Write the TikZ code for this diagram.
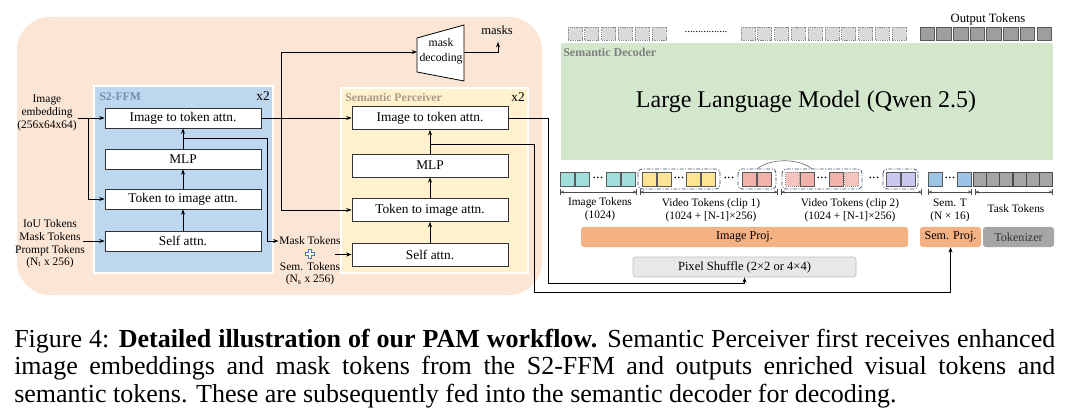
\documentclass[tikz,border=0pt]{standalone}
\usepackage{fontspec}
\setmainfont{Liberation Serif}
\usetikzlibrary{arrows.meta,calc}
\definecolor{bgorange}{RGB}{251,229,212}
\definecolor{s2blue}{RGB}{189,215,238}
\definecolor{spyellow}{RGB}{255,242,204}
\definecolor{llmgreen}{RGB}{210,231,204}
\definecolor{teal1}{RGB}{160,222,219}
\definecolor{yel1}{RGB}{255,228,150}
\definecolor{pink1}{RGB}{242,178,172}
\definecolor{pink2}{RGB}{246,196,190}
\definecolor{purp1}{RGB}{200,200,242}
\definecolor{blue1}{RGB}{157,195,230}
\definecolor{gray1}{RGB}{165,165,165}
\definecolor{projorange}{RGB}{244,177,131}
\definecolor{tokgray}{RGB}{166,166,166}
\definecolor{psgray}{RGB}{232,232,232}
\definecolor{grpline}{RGB}{68,84,106}
\definecolor{s2title}{RGB}{120,140,170}
\definecolor{sptitle}{RGB}{165,155,135}
\definecolor{sdtitle}{RGB}{128,128,128}
\definecolor{plusblue}{RGB}{70,120,200}
\definecolor{outdark}{RGB}{158,158,158}
\definecolor{outlight}{RGB}{218,218,218}
\begin{document}
\begin{tikzpicture}[x=0.75pt,y=-0.75pt,
  blk/.style={draw=black!80, fill=white, line width=0.6pt, minimum width=117pt, inner sep=0pt, font=\fontsize{10}{12}\selectfont},
  s2blk/.style={blk, minimum height=15pt},
  spblk/.style={blk, minimum height=17.25pt},
  arr/.style={-{Stealth[length=4pt,width=3pt]}, line width=0.6pt},
  lbl/.style={font=\fontsize{8.6}{9.4}\selectfont, align=center, inner sep=0.5pt},
  ttl/.style={font=\bfseries\fontsize{8.8}{10}\selectfont, inner sep=0pt},
  xtwo/.style={font=\fontsize{10}{12}\selectfont, inner sep=0pt},
  tok/.style={draw=black!65, line width=0.5pt},
  grp/.style={draw=grpline, line width=0.6pt, dash pattern=on 3pt off 1.2pt on 0.8pt off 1.2pt, rounded corners=3pt},
  outl/.style={draw=black!45, fill=outlight, line width=0.5pt, dash pattern=on 1pt off 0.7pt},
  outd/.style={draw=black!65, fill=outdark, line width=0.6pt},
  tlbl/.style={font=\fontsize{8.5}{9.8}\selectfont, align=center, inner sep=0pt},
  brk/.style={{Bar[width=4pt]Stealth[length=2.5pt,width=2.2pt]}-{Stealth[length=2.5pt,width=2.2pt]Bar[width=4pt]}, line width=0.45pt, draw=black!70},
  projbar/.style={rounded corners=2pt, inner sep=0pt, font=\fontsize{9.1}{11}\selectfont},
  captxt/.style={anchor=base west, inner sep=0pt, font=\fontsize{19.5}{20}\selectfont},
  tdots/.style={font=\bfseries\fontsize{8}{9}\selectfont, inner sep=0pt}
]
\useasboundingbox (0,0) rectangle (1080,420);
\fill[white] (0,0) rectangle (1080,420);

% ---------- left panel backgrounds
\fill[bgorange, rounded corners=25pt] (17,17) rectangle (542,295);
\draw[white, line width=1.2pt, fill=s2blue] (94,86) rectangle (273,273);
\draw[white, line width=1.2pt, fill=spyellow] (341,88) rectangle (528,273);
\node[ttl, text=s2title, anchor=west] (s2ttl) at (99,97) {S2-FFM};
\node[xtwo, anchor=east] (s2x) at (270,96) {x2};
\node[ttl, text=sptitle, anchor=west] (spttl) at (345,97) {Semantic Perceiver};
\node[xtwo, anchor=east] (spx) at (525,97) {x2};

% ---------- S2-FFM blocks
\node[s2blk] (s2i) at (183,118) {Image to token attn.};
\node[s2blk] (s2m) at (183,159) {MLP};
\node[s2blk] (s2t) at (183,199) {Token to image attn.};
\node[s2blk] (s2s) at (183,241) {Self attn.};
\draw[arr] (s2s.north) -- (s2t.south);
\draw[arr] (s2t.north) -- (s2m.south);
\draw[arr] (s2m.north) -- (s2i.south);

% ---------- Semantic Perceiver blocks
\node[spblk] (spi) at (430,118) {Image to token attn.};
\node[spblk] (spm) at (430,165.5) {MLP};
\node[spblk] (spt) at (430,210) {Token to image attn.};
\node[spblk] (sps) at (430,254.5) {Self attn.};
\draw[arr] (sps.north) -- (spt.south);
\draw[arr] (spt.north) -- (spm.south);
\draw[arr] (spm.north) -- (spi.south);

% ---------- left labels
\node[lbl] (emb) at (47,113) {Image\\embedding\\(256x64x64)};
\node[lbl] (tk) at (50,244) {IoU Tokens\\Mask Tokens\\Prompt Tokens\\(N\textsubscript{t} x 256)};
\coordinate (b1) at (88,118);
\coordinate (pa0) at (83,241);
\draw[arr] (emb.east |- s2i.west) -- (s2i.west);
\draw[arr] (b1) |- (s2t.west);
\draw[arr] (pa0) -- (s2s.west);

% ---------- mask tokens / sem tokens
\node[lbl] (mt) at (310,241) {Mask Tokens};
\draw[plusblue, fill=white, line width=0.5pt] (308.5,249.5) -- (311.5,249.5) -- (311.5,252.5) -- (314.5,252.5) -- (314.5,255.5) -- (311.5,255.5) -- (311.5,258.5) -- (308.5,258.5) -- (308.5,255.5) -- (305.5,255.5) -- (305.5,252.5) -- (308.5,252.5) -- cycle;
\node[lbl] (st) at (310,267) {Sem. Tokens};
\node[lbl] (ns) at (310,280) {(N\textsubscript{s} x 256)};
\coordinate (b2) at (183,138.5);
\coordinate (c1) at (267,241);
\draw[arr] (b2) -| (c1) -- (mt.west);
\coordinate (pa) at (335,254.5);
\draw[arr] (pa) -- (sps.west);

% ---------- S2 -> SP and mask decoding
\draw[arr] (s2i.east) -- (spi.west);
\coordinate (b3) at (281,118);
\coordinate (mdl) at (417,52);
\coordinate (mdr) at (464,52);
\draw[line width=0.6pt, fill=white] (417,38) -- (464,25) -- (464,81) -- (417,72) -- cycle;
\node[font=\fontsize{8.8}{11}\selectfont, align=center, inner sep=0pt] (md) at (441,51.5) {mask\\decoding};
\draw[arr] (b3) |- (mdl);
\draw[arr] (b3) |- (spt.west);
\node[font=\fontsize{9.4}{11}\selectfont, inner sep=0pt] (masks) at (497,30) {masks};
\coordinate (mka) at (498,42);
\draw[arr] (mdr) -| (mka);

% ---------- right panel: semantic decoder
\fill[llmgreen] (561,43) rectangle (1053,160);
\node[ttl, text=sdtitle, anchor=west, font=\bfseries\fontsize{9}{10}\selectfont] (sdttl) at (563,52) {Semantic Decoder};
\node[font=\fontsize{18}{20}\selectfont, inner sep=0pt] (llm) at (806,102) {Large Language Model (Qwen 2.5)};

% output tokens
\node[font=\fontsize{9.5}{10}\selectfont, inner sep=0pt] (outlbl) at (988,19) {Output Tokens};
\foreach \i in {0,...,5} {\draw[outl] ({568+16.8*\i},27) rectangle ++(14,13.5);}
\node[font=\fontsize{8}{9}\selectfont, inner sep=0pt] (odots) at (706,32) {................};
\foreach \i in {0,...,9} {\draw[outl] ({741+16.8*\i},27) rectangle ++(14,13.5);}
\foreach \i in {0,...,7} {\draw[outd] ({920+16.7*\i},27) rectangle ++(14.5,13.5);}

% ---------- input token row
% image tokens
\draw[tok, fill=teal1] (560.5,172) rectangle ++(14,14);
\draw[tok, fill=teal1] (575.5,172) rectangle ++(14,14);
\node[tdots] (d1) at (598,179) {···};
\draw[tok, fill=teal1] (606.5,172) rectangle ++(14,14);
\draw[tok, fill=teal1] (621.5,172) rectangle ++(14,14);
% clip 1 group (yellow)
\draw[grp] (638,169) rectangle (720,189);
\draw[tok, fill=yel1] (642,172) rectangle ++(14,14);
\draw[tok, fill=yel1] (657,172) rectangle ++(14,14);
\node[tdots] (d2) at (679,179) {···};
\draw[tok, fill=yel1] (686.5,172) rectangle ++(14,14);
\draw[tok, fill=yel1] (701.5,172) rectangle ++(14,14);
\node[tdots] (d3) at (729,179) {···};
% clip 1 last frame (pink)
\draw[grp] (738,169) rectangle (776,189);
\draw[tok, fill=pink1] (742,172) rectangle ++(14,14);
\draw[tok, fill=pink1] (757,172) rectangle ++(14,14);
% clip 2 first group
\draw[grp] (782,169) rectangle (862,189);
\draw[tok, fill=pink2, draw=black!45, densely dotted] (785.5,172) rectangle ++(14,14);
\draw[tok, fill=pink1] (800.5,172) rectangle ++(14,14);
\node[tdots] (d4) at (822,179) {···};
\draw[tok, fill=pink1] (829.5,172) rectangle ++(14,14);
\draw[tok, fill=pink2, draw=black!45, densely dotted] (844.5,172) rectangle ++(14,14);
\node[tdots] (d5) at (874,179) {···};
% clip 2 last (purple)
\draw[grp] (883,169) rectangle (918,189);
\draw[tok, fill=purp1] (886.5,172) rectangle ++(14,14);
\draw[tok, fill=purp1] (901.5,172) rectangle ++(14,14);
% arc linking groups
\coordinate (arcA) at (757,169);
\coordinate (arcB) at (812,169);
\draw[black!55, line width=0.5pt] (arcA) .. controls (770,158) and (799,158) .. (arcB);
% semantic tokens
\draw[tok, fill=blue1] (928,172) rectangle ++(14,14);
\node[tdots] (d6) at (950,179) {···};
\draw[tok, fill=blue1] (957.5,172) rectangle ++(14,14);
% task tokens
\foreach \i in {0,...,5} {\draw[tok, fill=gray1, draw=black!70] ({973+13.35*\i},172) rectangle ++(13,14);}

% brackets
\draw[brk] (560,192) -- (637,192);
\draw[brk] (640,192) -- (778,192);
\draw[brk] (781,192) -- (922,192);
\draw[brk] (928,192) -- (972,192);
\draw[brk] (975,192) -- (1053,192);

% token labels
\node[tlbl] (l1) at (600,209.5) {Image Tokens\\(1024)};
\node[tlbl] (l2) at (711,210) {Video Tokens (clip 1)\\(1024 + [N-1]×256)};
\node[tlbl] (l3) at (850,210) {Video Tokens (clip 2)\\(1024 + [N-1]×256)};
\node[tlbl] (l4) at (950,210) {Sem. T\\(N × 16)};
\node[tlbl] (l5) at (1016,209) {Task Tokens};

% projection bars
\node[projbar, fill=projorange, minimum width=245.25pt, minimum height=15pt] (iproj) at (744.5,237) {Image Proj.};
\node[projbar, fill=projorange, minimum width=45.75pt, minimum height=15pt] (sproj) at (950.5,237) {Sem. Proj.};
\node[projbar, fill=tokgray, text=black!80, minimum width=53.25pt, minimum height=15pt] (tkz) at (1018.5,237) {Tokenizer};
\node[projbar, fill=psgray, draw=black!25, line width=0.5pt, minimum width=167.25pt, minimum height=15pt, font=\fontsize{9.4}{11}\selectfont] (ps) at (744.5,267) {Pixel Shuffle (2×2 or 4×4)};

% ---------- SP outputs to the right
\coordinate (b4) at (431,144);
\coordinate (c2) at (534,292);
\coordinate (c3) at (548,283);
\draw[arr] (spi.east) -| (c3) -| (ps.south);
\draw[arr] (b4) -| (c2) -| (sproj.south);

% ---------- caption
\node[captxt] (cap1) at (14,347) {\makebox[780.75pt][s]{Figure 4: \textbf{Detailed illustration of our PAM workflow.} Semantic Perceiver first receives enhanced}};
\node[captxt] (cap2) at (14,374.5) {\makebox[780.75pt][s]{image embeddings and mask tokens from the S2-FFM and outputs enriched visual tokens and}};
\node[captxt] (cap3) at (14,402) {semantic tokens. These are subsequently fed into the semantic decoder for decoding.};
\end{tikzpicture}
\end{document}
